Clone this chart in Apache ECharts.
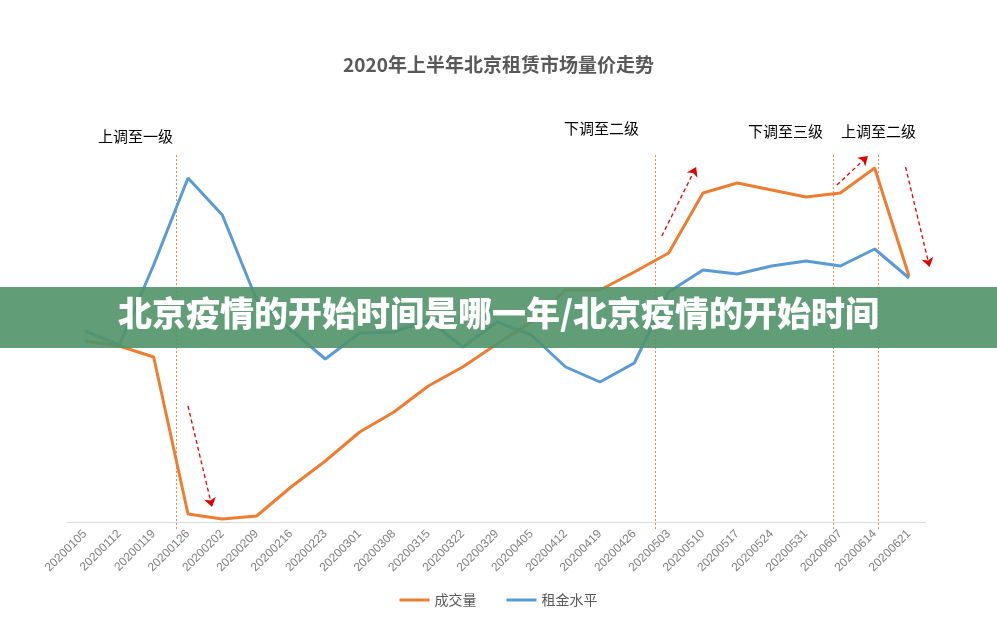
<!DOCTYPE html>
<html><head><meta charset="utf-8">
<script src="https://cdn.jsdelivr.net/npm/echarts@6/dist/echarts.min.js"></script>
<style>html,body{margin:0;padding:0;background:#fff}#c{width:997px;height:634px}</style>
</head><body><div id="c"></div>
<script>
const categories=['20200105','20200112','20200119','20200126','20200202','20200209','20200216','20200223','20200301','20200308','20200315','20200322','20200329','20200405','20200412','20200419','20200426','20200503','20200510','20200517','20200524','20200531','20200607','20200614','20200621'];
const volume=[181,176,165,8,3,6,35,61,90,110,136,155,178,200,232,232,250,269,329,339,332,325,329,354,246];
const rent=[191,177,257,344,307,222,192,163,189,190,202,175,200,187,155,140,159,230,252,248,256,261,256,273,244];
const markerPos=[2.65,16.6,21.8,23.1];
const arrows=[[[3,116],[3.7,15]],[[16.8,286],[17.8,355]],[[21.9,337],[22.8,366]],[[23.9,355],[24.6,255]]];
const notes=[['上调至一级',140,139],['下调至二级',606,131],['下调至三级',790,134],['上调至二级',883,134]];
const chart=echarts.init(document.getElementById('c'));
chart.setOption({
 animation:false,
 title:{text:'2020年上半年北京租赁市场量价走势',left:'center',top:50,textStyle:{fontSize:19,fontWeight:'bold',color:'#595959',fontFamily:'Noto Sans CJK SC'}},
 legend:{bottom:22,itemWidth:30,itemHeight:3,icon:'rect',itemGap:30,textStyle:{color:'#595959',fontSize:14,fontFamily:'Noto Sans CJK SC'},data:['成交量','租金水平']},
 grid:{left:85,right:88,top:100,bottom:112},
 xAxis:[{type:'category',data:categories,boundaryGap:false,axisLine:{show:false},axisTick:{show:false},axisLabel:{rotate:45,color:'#7f7f7f',fontSize:12,margin:10}},
  {type:'value',min:0,max:24,show:false}],
 yAxis:{type:'value',min:0,max:422,show:false},
 series:[
  {name:'成交量',type:'line',data:volume,symbol:'none',lineStyle:{width:3,color:'#ed7d31'},itemStyle:{color:'#ed7d31'}},
  {name:'租金水平',type:'line',data:rent,symbol:'none',lineStyle:{width:3,color:'#5b9bd5'},itemStyle:{color:'#5b9bd5'}},
  {type:'lines',coordinateSystem:'cartesian2d',xAxisIndex:1,clip:false,data:[{coords:[[-0.52,0],[24.5,0]]}],lineStyle:{color:'#d9d9d9',width:1,type:'solid',opacity:1},z:1},
  {type:'lines',coordinateSystem:'cartesian2d',xAxisIndex:1,clip:false,data:markerPos.map(p=>({coords:[[p,367],[p,-8]]})),lineStyle:{color:'#ed7d31',type:[2,2],width:1,opacity:0.9}},
  {type:'lines',coordinateSystem:'cartesian2d',xAxisIndex:1,clip:false,data:arrows.map(a=>({coords:a})),symbol:['none','arrow'],symbolSize:9,lineStyle:{color:'#e00000',type:[4,3],width:1.3,opacity:1}}
 ],
 graphic:[
  ...notes.map(n=>({type:'text',left:n[1]-42,top:n[2]-10,z:10,style:{text:n[0],fontSize:15,fill:'#000',fontFamily:'Noto Sans CJK SC'}})),
  {type:'rect',left:0,top:287,z:50,shape:{width:997,height:61},style:{fill:'rgba(80,148,104,0.9)'}},
  {type:'text',left:'center',top:296,z:51,style:{text:'北京疫情的开始时间是哪一年/北京疫情的开始时间',fontSize:34,fontWeight:900,fill:'#fff',fontFamily:'Noto Sans CJK SC'}}
 ]
});
</script></body></html>
